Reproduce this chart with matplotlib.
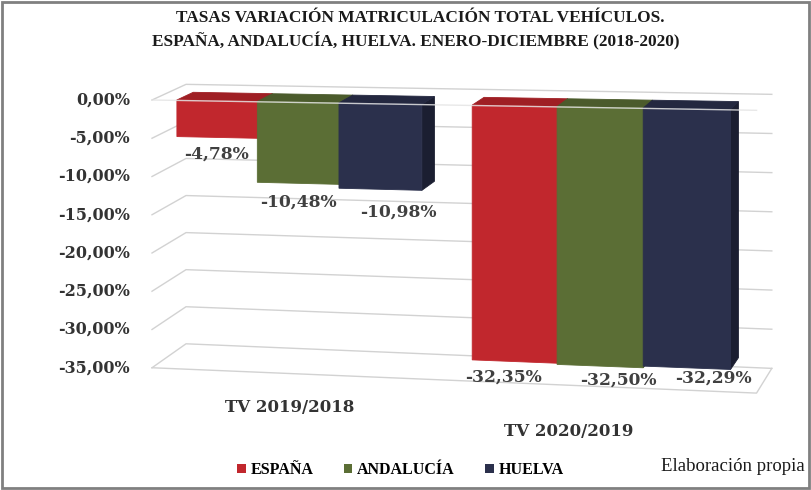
import matplotlib
matplotlib.use('Agg')
import matplotlib.pyplot as plt
from matplotlib.patches import Patch, Rectangle

# data
categories = ['TV 2019/2018', 'TV 2020/2019']
series = ['ESPAÑA', 'ANDALUCÍA', 'HUELVA']
espana = [-4.78, -32.35]
andalucia = [-10.48, -32.50]
huelva = [-10.98, -32.29]
value_ticks = [0, -5, -10, -15, -20, -25, -30, -35]

front_colors = ['#C1272D', '#5B6E35', '#2B304C']
top_colors = ['#9F1F24', '#4B5B2C', '#242840']
side_colors = ['#861A1E', '#3E4B24', '#1B1E31']
grid_color = '#D2D2D2'

# fake Excel 3D look: front plane slightly turned, depth runs to a vanishing point
turn = 0.0078
v_horizon = 24.0
x_vp, v_vp = 13.8, 66.0
wall_depth = 0.031
bar_z = (0.03, 0.52)
cat_width = 3.6
bar_w = 1.0


def proj(x, v, z):
    m = 1 + turn * x
    xs = x * m
    vs = v_horizon + (v - v_horizon) * m
    f = z * wall_depth
    return xs + f * (x_vp - xs), vs + f * (v_vp - vs)


def pct(v):
    return f'{v:.2f}%'.replace('.', ',')


fig = plt.figure(figsize=(8.12, 4.90), dpi=100)
ax = fig.add_axes([0, 0, 1, 1])
ax.set_xlim(-152 / 79.5, 660 / 79.5)
ax.set_ylim(-390 / 7.65, 100 / 7.65)
ax.axis('off')

floor_w = cat_width * len(categories)
v_min = min(value_ticks)

# walls: side wall + back wall gridlines, with tick labels at the front
for t in value_ticks:
    pts = [proj(0, t, 0), proj(0, t, 1), proj(floor_w, t, 1)]
    ax.plot(*zip(*pts), color=grid_color, lw=1, zorder=1)
    ax.annotate(pct(t), proj(0, t, 0), xytext=(-22, 0), textcoords='offset pixels',
                ha='right', va='center', fontsize=11.5, fontweight='bold',
                family='DejaVu Serif', color='#333333')

# floor outline (front and right edge)
pts = [proj(0, v_min, 0), proj(floor_w, v_min, 0), proj(floor_w, v_min, 1)]
ax.plot(*zip(*pts), color=grid_color, lw=1, zorder=1)

# bars
values = [espana, andalucia, huelva]
label_nudge = [[(0, 17), (-11, 16)], [(0, 19), (18, 14)], [(18, 23), (27, 10)]]
za, zb = bar_z
for ci in range(len(categories)):
    left = ci * cat_width + (cat_width - len(series) * bar_w) / 2
    for si in range(len(series)):
        x0 = left + si * bar_w
        x1 = x0 + bar_w
        v = values[si][ci]
        side = [proj(x1, 0, za), proj(x1, v, za), proj(x1, v, zb), proj(x1, 0, zb)]
        top = [proj(x0, 0, za), proj(x1, 0, za), proj(x1, 0, zb), proj(x0, 0, zb)]
        front = [proj(x0, 0, za), proj(x1, 0, za), proj(x1, v, za), proj(x0, v, za)]
        for poly, col in ((side, side_colors[si]), (top, top_colors[si]), (front, front_colors[si])):
            xs, ys = zip(*poly)
            ax.fill(xs, ys, color=col, lw=0.6, zorder=3)
        dx, dy = label_nudge[si][ci]
        ax.annotate(pct(v), proj((x0 + x1) / 2, v, za), xytext=(dx, -dy),
                    textcoords='offset pixels', ha='center', va='center',
                    fontsize=12.3, fontweight='bold', family='DejaVu Serif',
                    color='#404040', zorder=5)

# front line at 0 drawn across the bar tops
pts = [proj(0, 0, 0), proj(floor_w, 0, 0)]
ax.plot(*zip(*pts), color='#E4E4E4', lw=1, alpha=0.85, zorder=4)

# category labels
cat_nudge = [(-7, 33), (-31, 45)]
for ci, cat in enumerate(categories):
    dx, dy = cat_nudge[ci]
    ax.annotate(cat, proj((ci + 0.5) * cat_width, v_min, 0), xytext=(dx, -dy),
                textcoords='offset pixels', ha='center', va='center',
                fontsize=12, fontweight='bold', family='DejaVu Serif', color='#333333')

# title
fig.text(0.518, 1 - 18 / 490, 'TASAS VARIACIÓN MATRICULACIÓN TOTAL VEHÍCULOS.',
         ha='center', va='center', fontsize=12.4, fontweight='bold',
         family='Liberation Serif', color='#1A1A1A')
fig.text(0.512, 1 - 41 / 490, 'ESPAÑA, ANDALUCÍA, HUELVA. ENERO-DICIEMBRE (2018-2020)',
         ha='center', va='center', fontsize=12.4, fontweight='bold',
         family='Liberation Serif', color='#1A1A1A')

# legend + source note
handles = [Patch(facecolor=c, edgecolor='none') for c in front_colors]
fig.legend(handles, series, loc='center', bbox_to_anchor=(0.493, 1 - 470 / 490), ncol=3,
           frameon=False, handlelength=0.55, handleheight=0.55, handletextpad=0.3,
           columnspacing=1.9, prop={'family': 'Liberation Serif', 'weight': 'bold', 'size': 11.5})
fig.text(0.991, 1 - 466 / 490, 'Elaboración propia', ha='right', va='center',
         fontsize=13.5, family='Liberation Serif', color='#1A1A1A')

fig.patches.append(Rectangle((0.003, 0.004), 0.993, 0.991, transform=fig.transFigure,
                             fill=False, ec='#808080', lw=2))

fig.savefig('out.png', dpi=100)
